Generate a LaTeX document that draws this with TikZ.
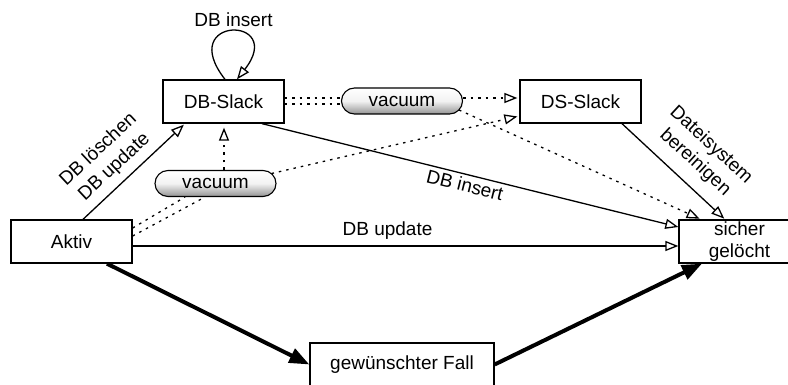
\documentclass[tikz,border=0pt]{standalone}
\usepackage{fontspec}
\setmainfont{Liberation Sans}
\usetikzlibrary{arrows.meta}

\begin{document}
\begin{tikzpicture}[x=1pt,y=-1pt,
  every node/.style={font=\fontsize{19}{22}\selectfont},
  box/.style={draw, line width=1.3pt, minimum width=121pt, minimum height=43pt, inner sep=0pt, align=center},
  pill/.style={draw, line width=1.1pt, rounded corners=13pt, minimum width=121pt, minimum height=26pt,
               inner sep=0pt, top color=white, bottom color=black!42, middle color=black!5},
  lbl/.style={inner sep=0pt, align=center},
  widelbl/.style={lbl, font=\fontsize{19}{23.5}\selectfont},
  flow/.style={line width=1.3pt, -{Triangle[length=13pt,width=10pt,fill=white]}},
  mainflow/.style={line width=4pt, -{Triangle[length=20pt,width=15pt]}},
  cleanup/.style={line width=1.3pt, dash pattern=on 2.5pt off 5pt},
  cleanuparrow/.style={cleanup, -{Triangle[length=13pt,width=10pt,fill=white]}}
]
\useasboundingbox (0,0) rectangle (788,385);

% states
\node[box] (dbslack) at (223.5,101.5) {DB-Slack};
\node[box] (dsslack) at (580.5,101.5) {DS-Slack};
\node[box] (aktiv)   at (71.5,241.5)  {Aktiv};
\node[box] (sicher)  at (739.5,241.5) {sicher\\gelöcht};
\node[box, minimum width=184pt] (wunsch) at (402,364.5) {gewünschter Fall};

% vacuum runs
\node[pill] (vac1) at (402,101)   {vacuum};
\node[pill] (vac2) at (215.5,183.5) {vacuum};

% regular transitions
\draw[flow, shorten >=1.5pt] ([xshift=11.5pt]aktiv.north) -- ([xshift=-38.5pt]dbslack.south);
\draw[flow] ([xshift=1.5pt]dbslack.north) .. controls +(-50,-64) and +(50,-64) .. ([xshift=13.5pt]dbslack.north);
\draw[flow] ([xshift=38.5pt]dbslack.south) -- ([yshift=14.5pt]sicher.west);
\draw[flow] ([yshift=-4.5pt]aktiv.east) -- ([yshift=-4.5pt]sicher.west);
\draw[flow, shorten >=1pt] ([xshift=41.5pt]dsslack.south) -- ([xshift=-14.5pt]sicher.north);

% intended path
\draw[mainflow] ([xshift=35.5pt]aktiv.south) -- (wunsch.west);
\draw[mainflow] (wunsch.east) -- ([xshift=-37.5pt]sicher.south);

% cleanup by vacuum
\draw[cleanup] ([yshift=3.5pt]dbslack.east) -- ([yshift=3pt]vac1.west);
\draw[cleanup] ([yshift=-2.5pt]dbslack.east) -- ([yshift=-3pt]vac1.west);
\draw[cleanuparrow, shorten >=2pt] ([yshift=3pt]vac1.east) -- ([yshift=3.5pt]dsslack.west);
\draw[cleanuparrow, shorten >=1.5pt] ([xshift=-4pt,yshift=-9pt]vac1.east) -- ([xshift=-38.5pt]sicher.north);

\draw[cleanup] ([yshift=13.5pt]aktiv.east) -- ([xshift=-30.5pt]vac2.south);
\draw[cleanup] ([yshift=5.5pt]aktiv.east) -- ([xshift=-10.5pt]vac2.south);
\draw[cleanuparrow, shorten >=4pt] ([xshift=8.5pt]vac2.north) -- ([xshift=0.5pt]dbslack.south);
\draw[cleanuparrow, shorten >=2pt] ([xshift=-5pt,yshift=10pt]vac2.east) -- ([yshift=-14.5pt]dsslack.west);

% transition labels
\node[lbl, anchor=base] (lblloop) at (233.5,27) {DB insert};
\node[widelbl, rotate=43] (lbldel) at (106.5,158.5) {DB löschen\\DB update};
\node[lbl, rotate=-14] (lblins) at (465,185) {DB insert};
\node[lbl, anchor=base] (lblupd) at (387.5,236) {DB update};
\node[widelbl, rotate=-42.7] (lblfs) at (703,154) {Dateisystem\\bereinigen};
\end{tikzpicture}
\end{document}
